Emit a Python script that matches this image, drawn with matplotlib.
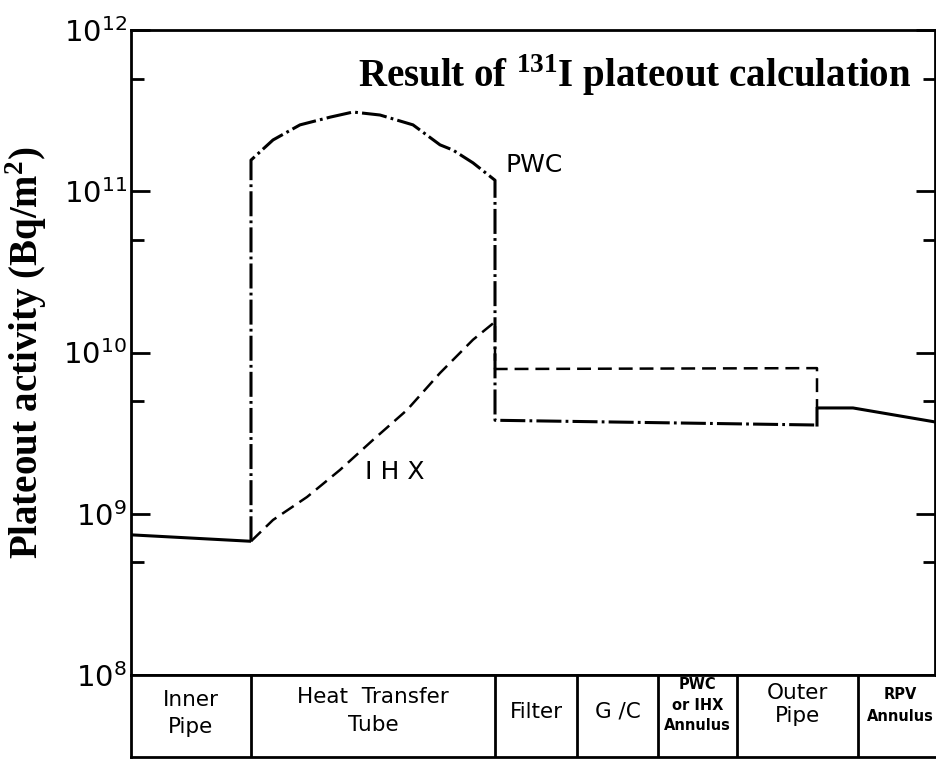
import math
import matplotlib
matplotlib.use("Agg")
import matplotlib.pyplot as plt
from matplotlib.ticker import LogLocator, NullFormatter, FuncFormatter
from matplotlib import font_manager

# ---------------- data (position along loop, activity Bq/m2) ----------------
inner_x = [0, 120]
inner_y = [7.4e8, 6.75e8]

pwc_x = [120, 120, 142, 169, 199, 222, 249, 282, 309, 322, 342, 364, 364, 686]
pwc_y = [6.75e8, 1.56e11, 2.08e11, 2.58e11, 2.88e11, 3.10e11, 2.97e11, 2.58e11,
         1.94e11, 1.80e11, 1.50e11, 1.17e11, 3.8e9, 3.55e9]

ihx_x = [120, 142, 176, 209, 242, 276, 309, 342, 364, 364, 686, 686]
ihx_y = [6.75e8, 9.15e8, 1.27e9, 1.87e9, 2.87e9, 4.40e9, 7.46e9, 1.20e10,
         1.55e10, 7.9e9, 8.0e9, 4.53e9]

common_x = [686, 686, 722, 804]
common_y = [3.55e9, 4.53e9, 4.53e9, 3.71e9]

seg_edges = [0, 120, 364, 446, 527, 606, 727, 811]
seg_labels = ["Inner\nPipe", "Heat  Transfer\nTube", "Filter", "G /C",
              "PWC\nor IHX\nAnnulus", "Outer\nPipe", "RPV\nAnnulus"]

# ---------------- fonts ----------------
names = {f.name for f in font_manager.fontManager.ttflist}
narrow = "Liberation Sans Narrow" if "Liberation Sans Narrow" in names else "DejaVu Sans"
serif = "Liberation Serif"
plt.rcParams['font.family'] = ['DejaVu Sans']
plt.rcParams['lines.scale_dashes'] = False

fig = plt.figure(figsize=(9.36, 7.6), dpi=100)
W, H = 936, 760
ax = fig.add_axes([131 / W, 1 - 675 / H, (935 - 131) / W, (675 - 30) / H])
tax = fig.add_axes([131 / W, 1 - 757 / H, (935 - 131) / W, (757 - 675) / H])

lw = 2.2
ax.plot(inner_x, inner_y, color='black', lw=lw, solid_capstyle='butt')
ax.plot(pwc_x, pwc_y, color='black', lw=lw, linestyle=(0, (18, 3, 2, 3)))
ax.plot(ihx_x, ihx_y, color='black', lw=1.8, linestyle=(0, (10, 5)))
ax.plot(common_x, common_y, color='black', lw=lw)

ax.set_yscale('log')
ax.set_ylim(1e8, 1e12)
ax.set_xlim(0, 804)
ax.yaxis.set_major_locator(LogLocator(base=10, numticks=10))
ax.yaxis.set_minor_locator(LogLocator(base=10, subs=[5.0], numticks=10))
ax.yaxis.set_minor_formatter(NullFormatter())
ax.yaxis.set_major_formatter(FuncFormatter(
    lambda v, p: r"$\mathdefault{10^{%d}}$" % round(math.log10(v))))
ax.tick_params(axis='y', which='major', direction='in', length=14, width=2,
               left=True, right=True, labelsize=21, pad=3)
ax.tick_params(axis='y', which='minor', direction='in', length=9, width=2,
               left=True, right=True)
ax.set_xticks([])
for lbl in ax.get_yticklabels():
    lbl.set_family(narrow)
for s in ax.spines.values():
    s.set_linewidth(2)

ax.set_ylabel(r"Plateout activity (Bq/m$^{\mathdefault{2}}$)", family=serif,
              fontweight='bold', fontsize=28, labelpad=10)

ax.text(0.282, 0.930, r"Result of $^{\mathdefault{131}}$I plateout calculation",
        transform=ax.transAxes, family=serif, fontweight='bold', fontsize=28,
        ha='left', va='center')
ax.text(374, 1.46e11, "PWC", family=narrow, fontsize=18, ha='left', va='center')
ax.text(264, 1.82e9, "I H X", family=narrow, fontsize=18, ha='center', va='center')

# ---------------- segment table ----------------
tax.set_xlim(0, 804)
tax.set_ylim(0, 1)
tax.set_xticks([])
tax.set_yticks([])
tax.spines['right'].set_visible(False)
for s in tax.spines.values():
    s.set_linewidth(2)
for e in seg_edges[1:-1]:
    tax.axvline(e, color='black', lw=2)

styles = [dict(fontsize=15.5, linespacing=1.45, y=0.53),
          dict(fontsize=15.5, linespacing=1.45, y=0.56),
          dict(fontsize=15.5, linespacing=1.2, y=0.55),
          dict(fontsize=15.5, linespacing=1.2, y=0.55),
          dict(fontsize=10.5, linespacing=1.45, y=0.63, fontweight='bold'),
          dict(fontsize=15.5, linespacing=1.15, y=0.64),
          dict(fontsize=10.5, linespacing=1.6, y=0.63, fontweight='bold')]
for i, lab in enumerate(seg_labels):
    st = dict(styles[i])
    y = st.pop('y')
    xc = (seg_edges[i] + seg_edges[i + 1]) / 2
    tax.text(xc, y, lab, ha='center', va='center', multialignment='center', **st)

fig.savefig("out.png", dpi=100)
